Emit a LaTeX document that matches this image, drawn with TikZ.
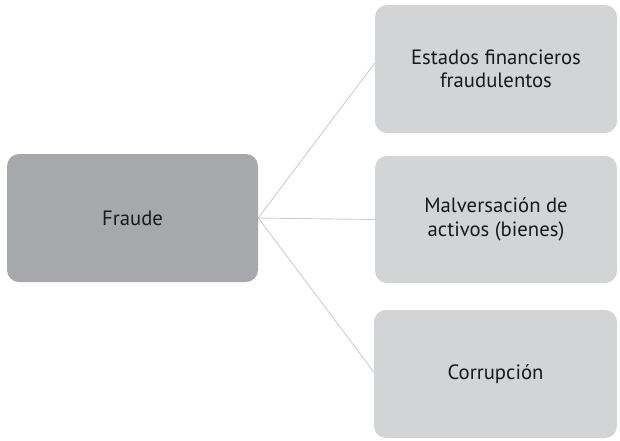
\documentclass[tikz,border=0pt]{standalone}
\usepackage{fontspec}
\setmainfont{PT Sans}
\definecolor{dark}{RGB}{167,168,172}
\definecolor{light}{RGB}{211,212,214}
\definecolor{linec}{RGB}{205,205,205}
\begin{document}
\begin{tikzpicture}[x=1pt,y=-1pt,
  box/.style={rounded corners=12pt, inner sep=0pt, align=center, font=\fontsize{20.7}{23.5}\selectfont, text=black!90},
  conn/.style={draw=linec, line width=0.9pt}]
\useasboundingbox (0,0) rectangle (620,440);
\node[box, fill=dark, minimum width=251pt, minimum height=128pt] (fraude) at (132.5,218) {Fraude};
\node[box, fill=light, minimum width=242pt, minimum height=128pt] (b1) at (496,69) {Estados financieros\\fraudulentos};
\node[box, fill=light, minimum width=242pt, minimum height=127pt] (b2) at (496,219.5) {Malversación de\\activos (bienes)};
\node[box, fill=light, minimum width=243pt, minimum height=128pt] (b3) at (495.5,374) {Corrupción};
\draw[conn] (fraude.east) -- ([yshift=6pt]b1.west);
\draw[conn] (fraude.east) -- (b2.west);
\draw[conn] (fraude.east) -- ([yshift=2pt]b3.west);
\end{tikzpicture}
\end{document}
